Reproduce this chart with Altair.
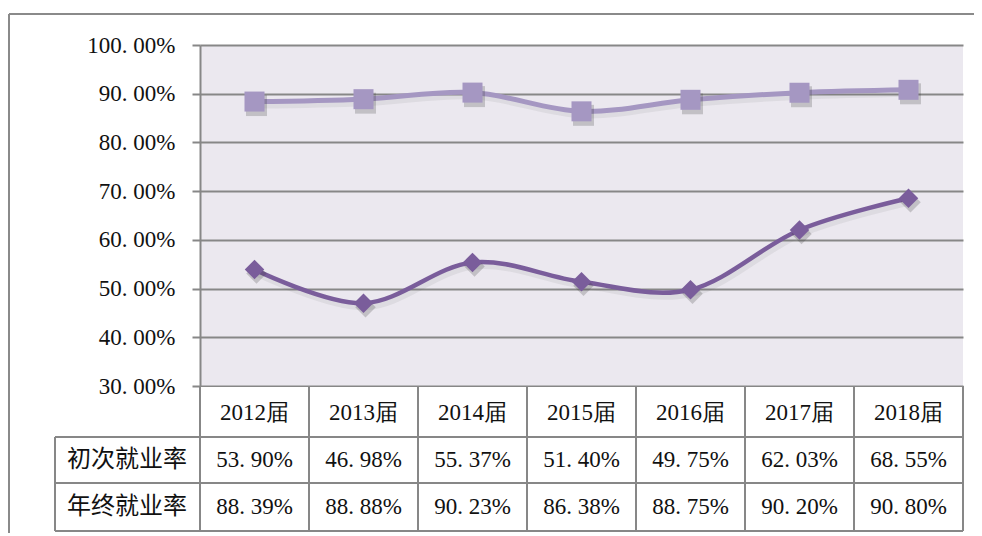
import altair as alt
import pandas as pd

# ---------------- data ----------------
years = ["2012届", "2013届", "2014届", "2015届", "2016届", "2017届", "2018届"]
first_rate = [53.90, 46.98, 55.37, 51.40, 49.75, 62.03, 68.55]   # 初次就业率
final_rate = [88.39, 88.88, 90.23, 86.38, 88.75, 90.20, 90.80]   # 年终就业率
series_names = ["初次就业率", "年终就业率"]
y_ticks = [0.3, 0.4, 0.5, 0.6, 0.7, 0.8, 0.9, 1.0]

# ---------------- layout ----------------
W = 763          # plot width
PLOT_H = 341     # height of the line plot part
H = 486          # plot + data table
DARK = "#7A5D9B"
LIGHT = "#A597C2"
GRID = "#878787"
SERIF = "Liberation Serif"
CJK = "Noto Sans CJK SC"

long_df = pd.DataFrame(
    [{"cat": c, "series": series_names[0], "v": v / 100} for c, v in zip(years, first_rate)]
    + [{"cat": c, "series": series_names[1], "v": v / 100} for c, v in zip(years, final_rate)]
)

rows = ["header"] + series_names
table_df = pd.DataFrame(
    [{"cat": c, "row": "header", "label": c} for c in years]
    + [{"cat": c, "row": series_names[0], "label": f"{v:.2f}".replace(".", ". ") + "%"} for c, v in zip(years, first_rate)]
    + [{"cat": c, "row": series_names[1], "label": f"{v:.2f}".replace(".", ". ") + "%"} for c, v in zip(years, final_rate)]
)
rowlab_df = pd.DataFrame({"row": series_names, "label": series_names})
cat_df = pd.DataFrame({"cat": years})

xscale = alt.Scale(type="band", domain=years, paddingInner=0, paddingOuter=0)
yscale = alt.Scale(domain=[0.3, 1.0], range=[PLOT_H, 0], nice=False, zero=False)
rowscale = alt.Scale(type="point", domain=rows, range=[368, 462], padding=0)

X = alt.X("cat:N", scale=xscale, axis=None, sort=years)
color_scale = alt.Scale(domain=series_names, range=[DARK, LIGHT])

base = alt.Chart(long_df)

line_shadow = base.mark_line(
    interpolate="cardinal", strokeWidth=6, color="#555", opacity=0.09, xOffset=2, yOffset=4
).encode(x=X, y=alt.Y("v:Q", scale=yscale, axis=None), detail="series:N")

pt_shadow_sq = base.transform_filter(alt.datum.series == series_names[1]).mark_point(
    shape="square", size=440, filled=True, color="#333", opacity=0.22, xOffset=2, yOffset=4
).encode(x=X, y=alt.Y("v:Q", scale=yscale, axis=None))

pt_shadow_dm = base.transform_filter(alt.datum.series == series_names[0]).mark_point(
    shape="diamond", size=420, filled=True, color="#333", opacity=0.22, xOffset=2, yOffset=4
).encode(x=X, y=alt.Y("v:Q", scale=yscale, axis=None))

lines = base.mark_line(interpolate="cardinal").encode(
    x=X,
    y=alt.Y(
        "v:Q",
        scale=yscale,
        axis=alt.Axis(
            values=y_ticks,
            labelExpr="replace(format(datum.value, '.2%'), '.', '. ')",
            title=None,
            grid=True,
            gridColor=GRID,
            gridWidth=2,
            gridOpacity=1,
            domainColor=GRID,
            domainWidth=2,
            tickColor=GRID,
            tickWidth=2,
            tickSize=8,
            labelFont=SERIF,
            labelFontSize=23,
            labelColor="#111",
            labelPadding=17,
        ),
    ),
    color=alt.Color("series:N", scale=color_scale, legend=None),
    strokeWidth=alt.condition(alt.datum.series == series_names[0], alt.value(4.5), alt.value(5)),
)

squares = base.transform_filter(alt.datum.series == series_names[1]).mark_point(
    shape="square", size=400, filled=True, opacity=1, color=LIGHT
).encode(x=X, y=alt.Y("v:Q", scale=yscale, axis=None))

diamonds = base.transform_filter(alt.datum.series == series_names[0]).mark_point(
    shape="diamond", size=380, filled=True, opacity=1, color=DARK
).encode(x=X, y=alt.Y("v:Q", scale=yscale, axis=None))

white = alt.Chart(cat_df).mark_rect(color="white").encode(
    x=alt.value(0), x2=alt.value("width"), y=alt.value(PLOT_H + 1), y2=alt.value(H)
)

vrules = alt.Chart(cat_df).mark_rule(color=GRID, strokeWidth=2).encode(
    x=alt.X("cat:N", scale=xscale, axis=None, sort=years, bandPosition=0),
    y=alt.value(PLOT_H), y2=alt.value(H),
)
right_rule = alt.Chart(cat_df).mark_rule(color=GRID, strokeWidth=2).encode(
    x=alt.value(W), y=alt.value(PLOT_H), y2=alt.value(H)
)
left_rule = alt.Chart(cat_df).mark_rule(color=GRID, strokeWidth=2).encode(
    x=alt.value(-145), y=alt.value(392), y2=alt.value(H)
)
h1 = alt.Chart(cat_df).mark_rule(color=GRID, strokeWidth=2).encode(
    x=alt.value(-145), x2=alt.value(W), y=alt.value(392)
)
h2 = alt.Chart(cat_df).mark_rule(color=GRID, strokeWidth=2).encode(
    x=alt.value(-145), x2=alt.value(W), y=alt.value(438)
)
h3 = alt.Chart(cat_df).mark_rule(color=GRID, strokeWidth=2).encode(
    x=alt.value(-145), x2=alt.value(W), y=alt.value(H)
)

cells = alt.Chart(table_df).mark_text(font=SERIF, fontSize=23, color="#111", baseline="middle").encode(
    x=X,
    y=alt.Y("row:N", scale=rowscale, axis=None),
    text="label:N",
)
rowlabels = alt.Chart(rowlab_df).mark_text(font=CJK, fontSize=24, color="#111", baseline="middle", align="center").encode(
    x=alt.value(-73),
    y=alt.Y("row:N", scale=rowscale, axis=None),
    text="label:N",
)

border_top = alt.Chart(cat_df).mark_rule(color="#8a8a8a", strokeWidth=2).encode(
    x=alt.value(-191), x2=alt.value(800), y=alt.value(-31)
)
border_left = alt.Chart(cat_df).mark_rule(color="#8a8a8a", strokeWidth=2).encode(
    x=alt.value(-191), y=alt.value(-31), y2=alt.value(H + 10)
)

chart = (
    alt.layer(
        white, line_shadow, lines, pt_shadow_sq, pt_shadow_dm, squares, diamonds,
        vrules, right_rule, left_rule, h1, h2, h3, cells, rowlabels, border_top, border_left,
    )
    .resolve_scale(y="independent")
    .properties(
        width=W,
        height=H,
        background="white",
        autosize=alt.AutoSizeParams(type="none"),
        padding={"left": 192, "top": 37, "right": 11, "bottom": 2},
    )
    .configure_view(fill="#EBE8EF", stroke=None)
    .configure_text(font=SERIF)
    .configure_axis(labelFont=SERIF)
)

chart.save("out.html", embed_options={"renderer": "svg", "actions": False})
